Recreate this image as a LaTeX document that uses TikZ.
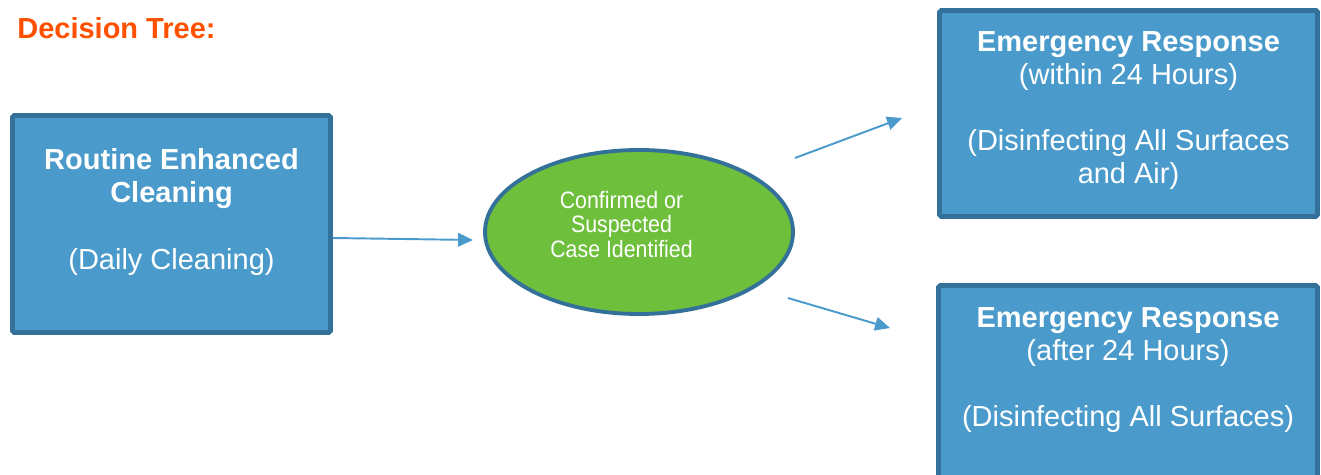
\documentclass[tikz,border=0pt]{standalone}
\usepackage{fontspec}
\setmainfont{Liberation Sans}
\newfontfamily\narrowfont[FakeStretch=0.9]{Liberation Sans}
\usetikzlibrary{arrows.meta,shapes,positioning,calc}
\definecolor{boxblue}{HTML}{4A9BCB}
\definecolor{edgeblue}{HTML}{33709A}
\definecolor{casegreen}{HTML}{6EBF3B}
\definecolor{titleorange}{HTML}{FF5000}

\tikzset{
  stage/.style={draw=edgeblue, line width=2.8pt, fill=boxblue, rounded corners=1pt, inner sep=0pt},
  stagetext/.style={text=white, align=center, inner sep=0pt, font=\fontsize{16.5}{18.8}\selectfont},
  flow/.style={draw=boxblue, line width=1.1pt, -{Triangle[length=0.3cm,width=0.27cm]}},
}

\begin{document}
\begin{tikzpicture}
    \useasboundingbox (0,0) rectangle (26.42,9.5);
    \clip (0,0) rectangle (26.42,9.5);

    % Title
    \node[anchor=west, inner sep=0pt, text=titleorange, font=\fontsize{16.5}{18.8}\selectfont\bfseries] (title) at (0.34,8.94) {Decision Tree:};

    % Routine cleaning
    \node[stage, minimum width=6.36cm, minimum height=4.34cm] (routine) at (3.43,5.02) {};
    \node[stagetext, below=0.71cm of routine.north] (routinetext) {\textbf{Routine Enhanced}\\\textbf{Cleaning}\\[18.8pt](Daily Cleaning)};

    % Case identified
    \node[ellipse, draw=edgeblue, line width=2.2pt, fill=casegreen, minimum width=6.16cm, minimum height=3.28cm, inner sep=0pt] (case) at (12.78,4.86) {};
    \node[text=white, align=center, inner sep=0pt, font=\narrowfont\fontsize{13.5}{13.7}\selectfont] (casetext) at (12.43,5.01) {Confirmed or\\Suspected\\Case Identified};

    % Emergency responses
    \node[stage, minimum width=7.56cm, minimum height=4.12cm] (within) at (22.57,7.23) {};
    \node[stagetext, below=0.46cm of within.north] (withintext) {\textbf{Emergency Response}\\(within 24 Hours)\\[18.8pt](Disinfecting All Surfaces\\and Air)};

    \node[stage, minimum width=7.58cm, minimum height=4.12cm] (after) at (22.56,1.73) {};
    \node[stagetext, below=0.48cm of after.north] (aftertext) {\textbf{Emergency Response}\\(after 24 Hours)\\[18.8pt](Disinfecting All Surfaces)};

    % Arrows
    \draw[flow] ([yshift=-0.28cm]routine.east) -- ([shift={(-0.2,-0.16)}]case.west);
    \draw[flow] ([yshift=1.48cm]case.east) -- ([shift={(-0.7,-0.09)}]within.west);
    \draw[flow] ([shift={(-0.14,-1.32)}]case.east) -- ([shift={(-0.92,-0.9)}]after.north west);
\end{tikzpicture}
\end{document}
